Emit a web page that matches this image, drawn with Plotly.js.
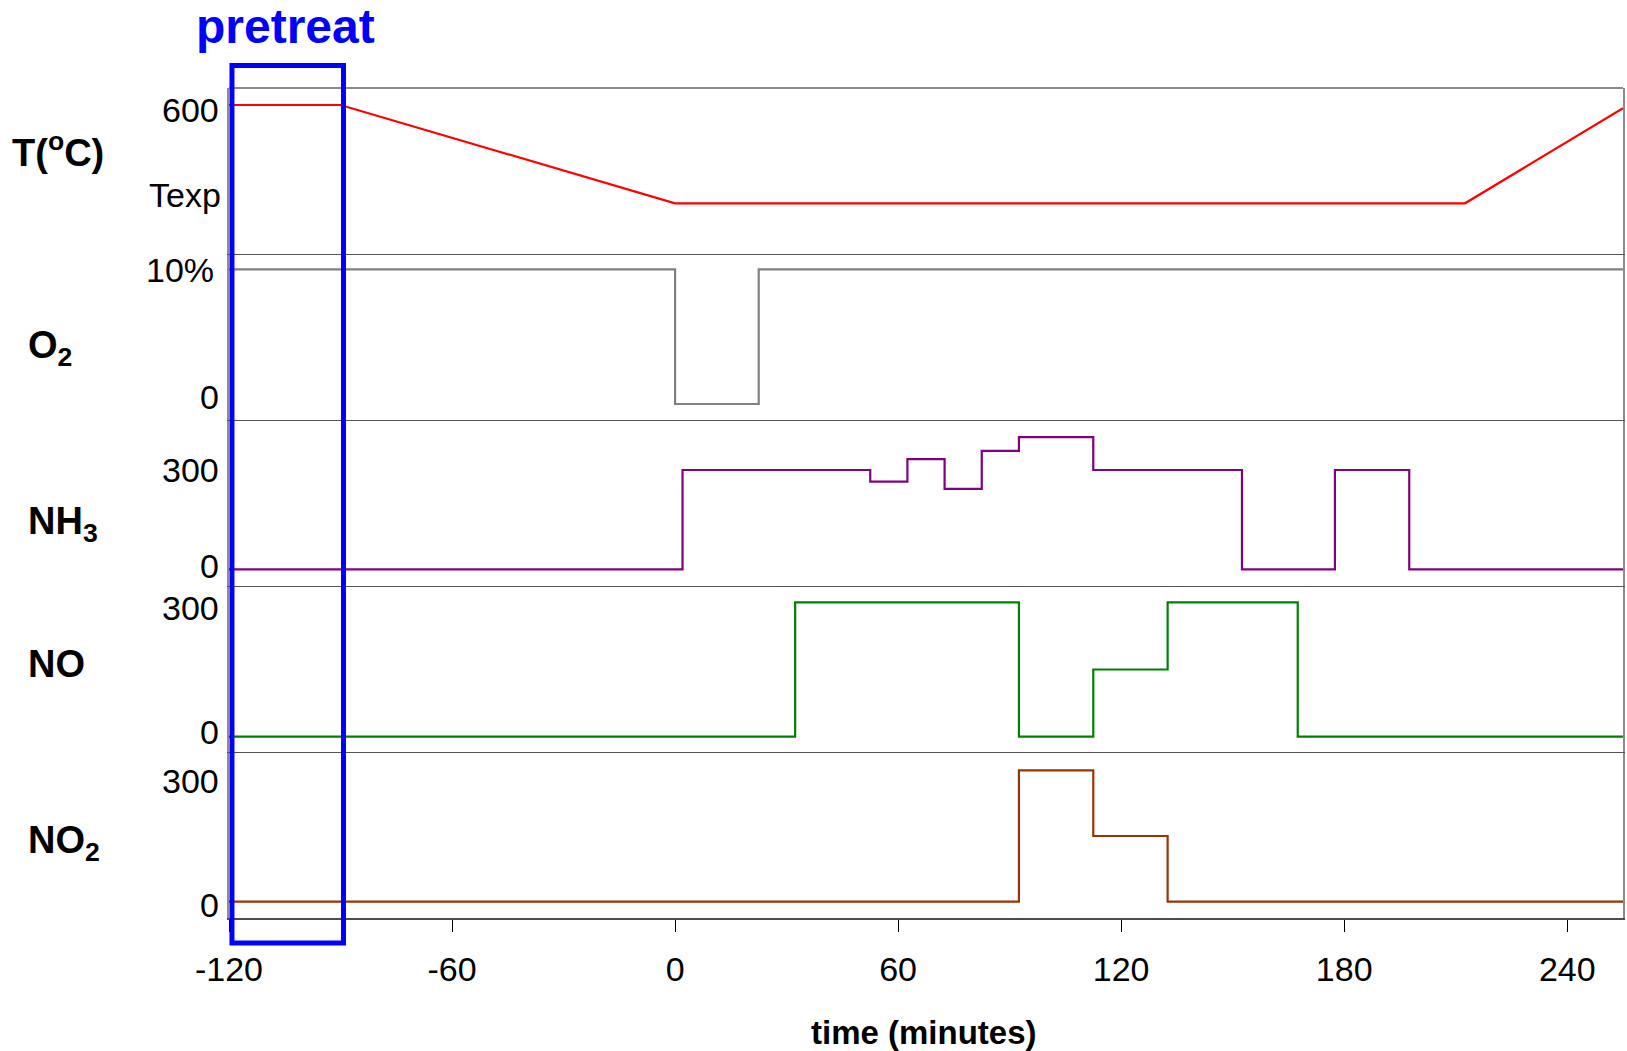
<!DOCTYPE html>
<html>
<head>
<meta charset="utf-8">
<script src="https://cdn.plot.ly/plotly-3.0.1.min.js"></script>
<style>
  html, body { margin: 0; padding: 0; background: #ffffff; }
  #chart { width: 1627px; height: 1051px; }
</style>
</head>
<body>
<div id="chart"></div>
<script>
// ---- time axis (minutes) ----
const timeRange = [-120, 255];
const timeTicks = [-120, -60, 0, 60, 120, 180, 240];
const pretreatWindow = [-119.2, -89.2];

// ---- temperature programme ----
const TEXP = 300;                       // axis position used for the experiment temperature
const tempTime  = [-120, -90, 0, 212.5, 255];
const tempValue = [600, 600, TEXP, TEXP, 590];
const tempTickVals = [600, TEXP];
const tempTickText = ['600', 'Texp'];

// ---- O2 (%) ----
const o2Time  = [-120, 0, 22.5, 255];
const o2Value = [10, 0, 10, 10];
const o2TickVals = [10, 0];
const o2TickText = ['10%', '0'];

// ---- NH3 (ppm) ----
const nh3Time  = [-120, 2, 52.5, 62.5, 72.5, 82.5, 92.5, 112.5, 152.5, 177.5, 197.5, 255];
const nh3Value = [0, 300, 265, 333, 243, 358, 399, 300, 0, 300, 0, 0];
const nh3TickVals = [300, 0];
const nh3TickText = ['300', '0'];

// ---- NO (ppm) ----
const noTime  = [-120, 32.3, 92.5, 112.5, 132.5, 167.5, 255];
const noValue = [0, 300, 0, 150, 300, 0, 0];
const noTickVals = [300, 0];
const noTickText = ['300', '0'];

// ---- NO2 (ppm) ----
const no2Time  = [-120, 92.5, 112.5, 132.5, 255];
const no2Value = [0, 300, 150, 0, 0];
const no2TickVals = [300, 0];
const no2TickText = ['300', '0'];

const FONT = 'Liberation Sans, Arial, Helvetica, sans-serif';

// stacked panels, bottom (1) to top (5)
const panels = [
  { n: 1, name: 'NO<sub>2</sub>', labelY: 0.0904, domain: [0.0, 0.2], range: [-37.2, 341.8],
    x: no2Time, y: no2Value, color: '#993300', shape: 'hv',
    tickVals: no2TickVals, tickText: no2TickText, tickShift: [-11, -3], tickX: [-8, -8] },
  { n: 2, name: 'NO', labelY: 0.3060, domain: [0.2, 0.4], range: [-34.2, 336.4],
    x: noTime, y: noValue, color: '#008000', shape: 'hv',
    tickVals: noTickVals, tickText: noTickText, tickShift: [-6, 5], tickX: [-8, -8] },
  { n: 3, name: 'NH<sub>3</sub>', labelY: 0.4747, domain: [0.4, 0.6], range: [-50.5, 451],
    x: nh3Time, y: nh3Value, color: '#800080', shape: 'hv',
    tickVals: nh3TickVals, tickText: nh3TickText, tickShift: [0, 3], tickX: [-8, -8] },
  { n: 4, name: 'O<sub>2</sub>', labelY: 0.6867, domain: [0.6, 0.8], range: [-1.19, 11.14],
    x: o2Time, y: o2Value, color: '#808080', shape: 'hv',
    tickVals: o2TickVals, tickText: o2TickText, tickShift: [-1, 7], tickX: [-13, -8] },
  { n: 5, name: 'T(<sup>o</sup>C)', labelY: 0.9247, domain: [0.8, 1.0], range: [145.3, 651.9],
    x: tempTime, y: tempValue, color: '#ff0000', shape: 'linear',
    tickVals: tempTickVals, tickText: tempTickText, tickShift: [-5, 8], tickX: [-8, -6], labelX: -219 }
];

const suffix = n => (n === 1 ? '' : String(n));

const traces = panels.map(p => ({
  type: 'scatter',
  mode: 'lines',
  x: p.x,
  y: p.y,
  xaxis: 'x' + suffix(p.n),
  yaxis: 'y' + suffix(p.n),
  line: { color: p.color, width: 2.2, shape: p.shape },
  hoverinfo: 'skip'
}));

const layout = {
  width: 1627,
  height: 1051,
  margin: { l: 229, r: 4, t: 88, b: 133, pad: 0 },
  paper_bgcolor: '#ffffff',
  plot_bgcolor: '#ffffff',
  showlegend: false,
  font: { family: FONT, color: '#000000', size: 34 },
  annotations: [],
  shapes: []
};

panels.forEach(p => {
  const s = suffix(p.n);
  const xa = {
    range: timeRange,
    anchor: 'y' + s,
    showgrid: false,
    zeroline: false,
    showline: true,
    linecolor: '#555555',
    linewidth: 1.3,
    fixedrange: true
  };
  if (p.n === 1) {
    Object.assign(xa, {
      linecolor: '#4d4d4d',
      linewidth: 2,
      ticks: 'outside',
      ticklen: 12,
      tickwidth: 1,
      tickcolor: '#000000',
      tickmode: 'array',
      tickvals: timeTicks,
      ticktext: timeTicks.map(String),
      ticklabelstandoff: 8,
      tickfont: { family: FONT, size: 34, color: '#000000' }
    });
  } else {
    Object.assign(xa, { matches: 'x', showticklabels: false, ticks: '' });
  }
  layout['xaxis' + s] = xa;

  layout['yaxis' + s] = {
    domain: p.domain,
    range: p.range,
    anchor: 'x' + s,
    showgrid: false,
    zeroline: false,
    showline: true,
    mirror: true,
    linecolor: '#8c8c8c',
    linewidth: 2,
    ticks: '',
    showticklabels: false,
    fixedrange: true
  };

  // value labels on the left of each panel
  p.tickVals.forEach((v, i) => {
    layout.annotations.push({
      xref: 'paper', x: 0, xanchor: 'right', xshift: p.tickX[i],
      yref: 'y' + s, y: v, yanchor: 'middle', yshift: p.tickShift[i],
      text: p.tickText[i], showarrow: false,
      font: { family: FONT, size: 34, color: '#000000' }
    });
  });

  // species / temperature name
  layout.annotations.push({
    xref: 'paper', x: 0, xanchor: 'left', xshift: p.labelX !== undefined ? p.labelX : -203.5,
    yref: 'paper', y: p.labelY, yanchor: 'middle',
    text: '<b>' + p.name + '</b>', showarrow: false,
    font: { family: FONT, size: 38, color: '#000000' }
  });
});

// top frame of the stack
layout.shapes.push({
  type: 'line', xref: 'paper', yref: 'paper',
  x0: 0, x1: 1, y0: 1, y1: 1,
  line: { color: '#8c8c8c', width: 2 }
});

// pretreatment window
layout.shapes.push({
  type: 'rect', xref: 'x', yref: 'paper',
  x0: pretreatWindow[0], x1: pretreatWindow[1],
  y0: -0.0301, y1: 1.0271,
  line: { color: '#0000ff', width: 5 },
  fillcolor: 'rgba(0,0,0,0)',
  layer: 'above'
});

layout.annotations.push({
  xref: 'x', x: (pretreatWindow[0] + pretreatWindow[1]) / 2, xanchor: 'center', xshift: -2,
  yref: 'paper', y: 1.0741, yanchor: 'middle',
  text: '<b>pretreat</b>', showarrow: false,
  font: { family: FONT, size: 48, color: '#0000ff' }
});

// time axis title
layout.annotations.push({
  xref: 'paper', x: 0.5, xanchor: 'center', xshift: -2,
  yref: 'paper', y: -0.1385, yanchor: 'middle',
  text: '<b>time (minutes)</b>', showarrow: false,
  font: { family: FONT, size: 33, color: '#000000' }
});

Plotly.newPlot('chart', traces, layout, { displayModeBar: false, staticPlot: true });
</script>
</body>
</html>
